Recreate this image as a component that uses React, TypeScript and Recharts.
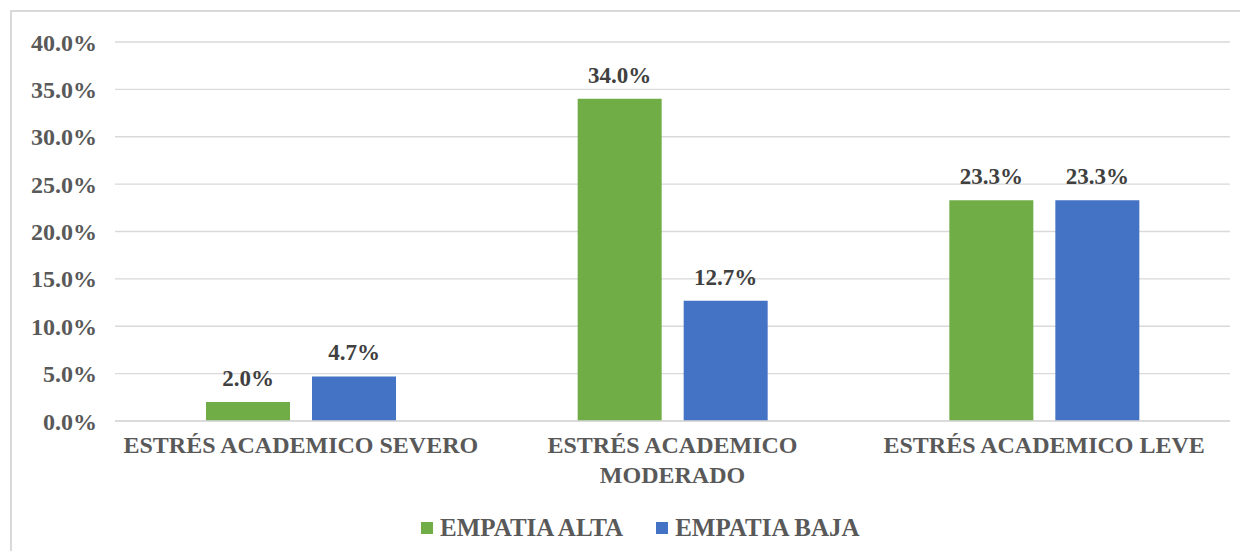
import React from "react";
import { BarChart, Bar, XAxis, YAxis, CartesianGrid, LabelList, Legend } from "recharts";

const CATEGORIES = ["ESTRÉS ACADEMICO SEVERO", "ESTRÉS ACADEMICO MODERADO", "ESTRÉS ACADEMICO LEVE"];
const EMPATIA_ALTA = [2.0, 34.0, 23.3];
const EMPATIA_BAJA = [4.7, 12.7, 23.3];
const SERIES_NAMES = ["EMPATIA ALTA", "EMPATIA BAJA"];
const SERIES_COLORS = ["#70AD47", "#4472C4"];
const Y_TICKS = [0, 5, 10, 15, 20, 25, 30, 35, 40];

const data = CATEGORIES.map((c, i) => ({ name: c, alta: EMPATIA_ALTA[i], baja: EMPATIA_BAJA[i] }));

const FONT = "Liberation Serif";
const FS_X = 24;
const FS_Y = 24;
const FS_LABEL = 23;
const FS_LEGEND = 25;

let ctx: CanvasRenderingContext2D | null = null;
const measure = (s: string, size: number) => {
  if (!ctx) ctx = document.createElement("canvas").getContext("2d");
  if (!ctx) return s.length * size * 0.65;
  ctx.font = `bold ${size}px "${FONT}"`;
  return ctx.measureText(s).width;
};

const wrap = (s: string, maxW: number, size: number) => {
  const words = s.split(" ");
  const lines: string[] = [];
  let cur = "";
  for (const w of words) {
    const t = cur ? cur + " " + w : w;
    if (cur && measure(t, size) > maxW) {
      lines.push(cur);
      cur = w;
    } else cur = t;
  }
  if (cur) lines.push(cur);
  return lines;
};

const XTick = (props: any) => {
  const { x, y, payload } = props;
  const lines = wrap(String(payload.value), 368, FS_X);
  return (
    <text
      x={x}
      y={y + 32}
      textAnchor="middle"
      fill="#595959"
      style={{ fontFamily: FONT, fontSize: FS_X, fontWeight: 700 }}
    >
      {lines.map((l, i) => (
        <tspan key={i} x={x} dy={i === 0 ? 0 : 30}>
          {l}
        </tspan>
      ))}
    </text>
  );
};

const renderLegend = () => (
  <div
    style={{
      display: "flex",
      alignItems: "center",
      fontFamily: FONT,
      fontSize: FS_LEGEND,
      fontWeight: 700,
      color: "#595959",
      whiteSpace: "nowrap",
    }}
  >
    {SERIES_NAMES.map((n, i) => (
      <div key={n} style={{ display: "flex", alignItems: "center", marginRight: i === 0 ? 33 : 0 }}>
        <span style={{ display: "inline-block", width: 12, height: 12, background: SERIES_COLORS[i], marginRight: 7 }} />
        <span>{n}</span>
      </div>
    ))}
  </div>
);

const fmt = (v: number) => `${v.toFixed(1)}%`;
const labelStyle = { fill: "#404040", fontFamily: FONT, fontSize: FS_LABEL, fontWeight: 700 };

export default function App() {
  return (
    <div style={{ margin: -8, width: 1248, height: 559, position: "relative", overflow: "hidden", background: "#fff", fontFamily: FONT }}>
      <div
        style={{
          position: "absolute",
          left: 10,
          top: 10,
          right: -10,
          bottom: -10,
          borderTop: "2px solid #d9d9d9",
          borderLeft: "2px solid #d9d9d9",
        }}
      />
      <BarChart
        width={1248}
        height={559}
        data={data}
        margin={{ top: 42, right: 18, left: 0, bottom: 58 }}
        barSize={84}
        barGap={22}
      >
        <CartesianGrid vertical={false} stroke="#d9d9d9" strokeWidth={1.3} />
        <XAxis
          dataKey="name"
          height={80}
          tickSize={0}
          tickMargin={0}
          axisLine={{ stroke: "#d9d9d9", strokeWidth: 1.3 }}
          tickLine={false}
          interval={0}
          tick={<XTick />}
        />
        <YAxis
          width={115}
          domain={[0, 40]}
          ticks={Y_TICKS}
          tickFormatter={fmt}
          axisLine={false}
          tickLine={false}
          tickSize={0}
          tickMargin={18}
          tick={{ fill: "#595959", fontFamily: FONT, fontSize: FS_Y, fontWeight: 700 }}
        />
        <Legend
          layout="horizontal"
          verticalAlign="middle"
          align="center"
          wrapperStyle={{ left: 421, top: 514, width: "auto" }}
          content={renderLegend}
        />
        <Bar dataKey="alta" name={SERIES_NAMES[0]} fill={SERIES_COLORS[0]} isAnimationActive={false}>
          <LabelList dataKey="alta" position="top" offset={16} formatter={(v: any) => fmt(Number(v))} style={labelStyle} />
        </Bar>
        <Bar dataKey="baja" name={SERIES_NAMES[1]} fill={SERIES_COLORS[1]} isAnimationActive={false}>
          <LabelList dataKey="baja" position="top" offset={16} formatter={(v: any) => fmt(Number(v))} style={labelStyle} />
        </Bar>
      </BarChart>
    </div>
  );
}
